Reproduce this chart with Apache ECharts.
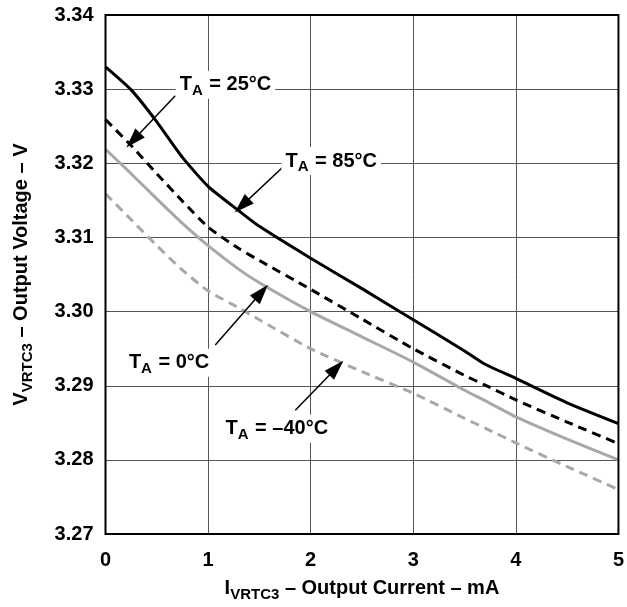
<!DOCTYPE html>
<html>
<head>
<meta charset="utf-8">
<script src="https://cdn.jsdelivr.net/npm/echarts@6/dist/echarts.min.js"></script>
<style>
html,body{margin:0;padding:0;background:#fff;}
#c{width:627px;height:607px;}
</style>
</head>
<body>
<div id="c"></div>
<script>
// Data
var xCurrent = [0, 0.25, 0.5, 0.75, 1, 1.3, 1.5, 2, 2.5, 3, 3.5, 3.7, 4, 4.5, 5];
var v85 = [3.3330, 3.3299, 3.3256, 3.3208, 3.3169, 3.3136, 3.3115, 3.3072, 3.3031, 3.2989, 3.2947, 3.2929, 3.2910, 3.2877, 3.2849];
var v25 = [3.3259, 3.3224, 3.3186, 3.3149, 3.3114, 3.3085, 3.3069, 3.3030, 3.2990, 3.2950, 3.2914, 3.2901, 3.2881, 3.2851, 3.2822];
var v0  = [3.3219, 3.3186, 3.3152, 3.3119, 3.3089, 3.3057, 3.3039, 3.3000, 3.2966, 3.2932, 3.2894, 3.2880, 3.2858, 3.2828, 3.2800];
var vm40= [3.3159, 3.3124, 3.3089, 3.3056, 3.3028, 3.3005, 3.2989, 3.2950, 3.2919, 3.2890, 3.2856, 3.2843, 3.2823, 3.2791, 3.2760];
var xTicks = [0, 1, 2, 3, 4, 5];
var yTicks = [3.27, 3.28, 3.29, 3.30, 3.31, 3.32, 3.33, 3.34];

// Annotation labels: temperature, label centre [x, y], arrow start, arrow tip
var tempLabels = ['25°C', '85°C', '0°C', '–40°C'];
var labelPos = [[1.17, 3.3306], [2.20, 3.3203], [0.62, 3.2931], [1.67, 3.2842]];
var arrowFrom = [[0.68, 3.3291], [1.73, 3.3195], [1.07, 3.2955], [1.85, 3.2867]];
var arrowTo = [[0.27, 3.3231], [1.33, 3.3143], [1.52, 3.3026], [2.25, 3.2924]];

function pairs(xs, ys) { return xs.map(function (x, i) { return [x, ys[i]]; }); }

var FONT = 'Liberation Sans, Arial, sans-serif';
var BLACK = '#000000';
var GRAY = '#a8a8a8';

function annot(i) {
  return {
    markLine: {
      silent: true,
      symbol: ['none', 'triangle'],
      lineStyle: { color: '#000', width: 1.5, type: 'solid' },
      itemStyle: { color: '#000' },
      label: { show: false },
      data: [[{ coord: arrowFrom[i], symbol: 'none' },
              { coord: arrowTo[i], symbol: 'triangle', symbolSize: [13, 20] }]]
    },
    markPoint: {
      silent: true,
      symbol: 'rect',
      symbolSize: 0,
      label: {
        show: true,
        position: 'inside',
        formatter: '{b|T}{s|A}{b| = ' + tempLabels[i] + '}',
        backgroundColor: '#fff',
        padding: [2, 4, 2, 4],
        rich: {
          b: { fontFamily: FONT, fontWeight: 'bold', fontSize: 20, color: '#000', lineHeight: 24 },
          s: { fontFamily: FONT, fontWeight: 'bold', fontSize: 15, color: '#000', lineHeight: 24, padding: [12, 1, 0, 0] }
        }
      },
      data: [{ coord: labelPos[i] }]
    }
  };
}

function mkSeries(name, ys, color, dashed, idx) {
  var s = {
    name: name,
    type: 'line',
    data: pairs(xCurrent, ys),
    smooth: 0.2,
    showSymbol: false,
    symbol: 'none',
    lineStyle: { color: color, width: 3, type: dashed ? [9, 6] : 'solid' },
    z: 3
  };
  var a = annot(idx);
  s.markLine = a.markLine;
  s.markPoint = a.markPoint;
  return s;
}

var chart = echarts.init(document.getElementById('c'), null, { renderer: 'canvas' });
chart.setOption({
  animation: false,
  backgroundColor: '#fff',
  grid: { left: 100, right: 4, top: 15, bottom: 69, show: true, borderColor: '#000', borderWidth: 2, backgroundColor: 'transparent', z: 5 },
  xAxis: {
    type: 'value', min: xTicks[0], max: xTicks[xTicks.length - 1], interval: 1,
    axisLine: { show: false }, axisTick: { show: false },
    splitLine: { show: true, lineStyle: { color: '#555', width: 1 } },
    axisLabel: { fontFamily: FONT, fontWeight: 'bold', fontSize: 20, color: '#000', margin: 16 },
    name: '{b|I}{s|VRTC3}{b| – Output Current – mA}',
    nameLocation: 'middle', nameGap: 37,
    nameTextStyle: {
      rich: {
        b: { fontFamily: FONT, fontWeight: 'bold', fontSize: 20, color: '#000', lineHeight: 24 },
        s: { fontFamily: FONT, fontWeight: 'bold', fontSize: 15, color: '#000', lineHeight: 24, padding: [12, 0, 0, 0] }
      }
    }
  },
  yAxis: {
    type: 'value', min: yTicks[0], max: yTicks[yTicks.length - 1], interval: 0.01,
    axisLine: { show: false }, axisTick: { show: false },
    splitLine: { show: true, lineStyle: { color: '#555', width: 1 } },
    axisLabel: { fontFamily: FONT, fontWeight: 'bold', fontSize: 20, color: '#000', margin: 12,
      formatter: function (v) { return v.toFixed(2); } },
    name: '{b|V}{s|VRTC3}{b| – Output Voltage – V}',
    nameLocation: 'middle', nameGap: 72, nameRotate: 90,
    nameTextStyle: {
      rich: {
        b: { fontFamily: FONT, fontWeight: 'bold', fontSize: 20, color: '#000', lineHeight: 24 },
        s: { fontFamily: FONT, fontWeight: 'bold', fontSize: 15, color: '#000', lineHeight: 24, padding: [12, 0, 0, 0] }
      }
    }
  },
  series: [
    mkSeries('25°C', v25, BLACK, true, 0),
    mkSeries('85°C', v85, BLACK, false, 1),
    mkSeries('0°C', v0, GRAY, false, 2),
    mkSeries('–40°C', vm40, GRAY, true, 3)
  ]
});
</script>
</body>
</html>
